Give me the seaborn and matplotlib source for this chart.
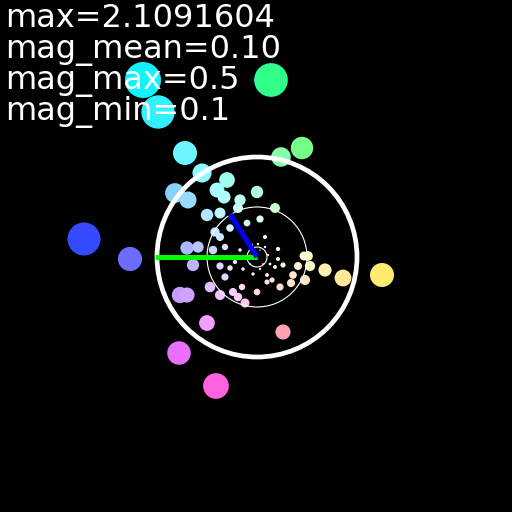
import colorsys
import numpy as np
import pandas as pd
import matplotlib
matplotlib.use("Agg")
import matplotlib.pyplot as plt
from matplotlib.patches import Circle
import seaborn as sns

# vector end points (unit = big ring radius)
vec_x = [-1.14, -0.99, 0.14, 0.45, 0.24, -0.72, -0.55, -0.30, -0.40, -0.33,
         0.00, -0.82, -0.69, -0.50, -0.37, -0.17, -0.19, 0.18, -0.10, 0.03,
         -0.27, -0.42, -0.37, 0.08, -0.70, -0.59, -0.64, -0.44, -0.32, -0.37,
         -0.27, -0.32, -0.47, -0.77, -0.70, -0.37, -0.24, -0.19, -0.15, -0.12,
         0.00, -0.50, 0.26, -0.78, -0.41, 0.47, 0.51, 0.41, 0.53, 0.68,
         0.86, 1.25, 0.36, 0.48, 0.34, 0.23, 0.15, 0.10, -1.73, -1.27,
         -0.17, -0.05, 0.01, 0.08, 0.11, 0.03, -0.07, 0.06, 0.13, 0.03,
         -0.07, -0.22, -0.14, -0.04, 0.10, 0.18, 0.21, 0.26, 0.21]
vec_y = [1.77, 1.45, 1.77, 1.09, 1.00, 1.04, 0.84, 0.77, 0.67, 0.60,
         0.65, 0.64, 0.57, 0.42, 0.44, 0.57, 0.49, 0.49, 0.34, 0.38,
         0.29, 0.25, 0.20, 0.20, 0.09, 0.10, -0.08, 0.07, 0.10, -0.09,
         -0.11, -0.20, -0.30, -0.38, -0.38, -0.38, -0.35, -0.40, -0.30, -0.46,
         -0.35, -0.66, -0.75, -0.96, -1.29, 0.01, 0.01, -0.09, -0.09, -0.13,
         -0.21, -0.18, -0.18, -0.23, -0.26, -0.30, -0.23, -0.25, 0.18, -0.02,
         0.07, 0.12, 0.13, 0.10, 0.02, 0.07, 0.02, -0.07, -0.07, -0.12,
         -0.07, -0.05, -0.12, -0.17, -0.18, -0.10, -0.02, -0.08, 0.08]

# the two arrows and the reference rings
arrow_green = (-1.02, 0.0)
arrow_blue = (-0.27, 0.43)
ring_radii = [1.0, 0.5, 0.1]

labels = ["max=2.1091604", "mag_mean=0.10", "mag_max=0.5", "mag_min=0.1"]

df = pd.DataFrame({"x": vec_x, "y": vec_y})
df["mag"] = np.hypot(df.x, df.y)
df["ang"] = np.degrees(np.arctan2(df.y, df.x))
df["id"] = [str(i) for i in range(len(df))]

colors = []
for a, m in zip(df.ang, df.mag):
    h = ((a + 60) % 360) / 360
    colors.append(colorsys.hsv_to_rgb(h, min(1.0, m / 2.2), 1.0))
palette = dict(zip(df.id, colors))

# dot radius in px grows with the length, then in points^2
rad_px = np.minimum(9.5 * df.mag, 18)
df["area"] = (1.44 * rad_px) ** 2

fig = plt.figure(figsize=(5.12, 5.12), dpi=100, facecolor="black")
ax = fig.add_axes([0, 0, 1, 1])
ax.set_facecolor("black")

sns.scatterplot(data=df, x="x", y="y", hue="id", palette=palette,
                size="area", sizes=(0, df.area.max()),
                size_norm=(0, df.area.max()),
                linewidth=0, legend=False, ax=ax, zorder=2)

ax.add_patch(Circle((0, 0), ring_radii[0], fill=False, ec="white", lw=3.4, zorder=3))
ax.add_patch(Circle((0, 0), ring_radii[1], fill=False, ec="white", lw=0.8, zorder=3))
ax.add_patch(Circle((0, 0), ring_radii[2], fill=False, ec="white", lw=0.8, zorder=3))

ax.plot([0, arrow_green[0]], [0, arrow_green[1]], color="#00ff00", lw=3.6,
        solid_capstyle="butt", zorder=4)
ax.plot([0, arrow_blue[0]], [0, arrow_blue[1]], color="#0000ee", lw=3.8,
        solid_capstyle="butt", zorder=5)

ax.set_xlim(-2.57, 2.55)
ax.set_ylim(-2.55, 2.57)
ax.set_aspect("equal")
ax.axis("off")

base = [27, 58, 89, 120]
for t, b in zip(labels, base):
    fig.text(5 / 512, 1 - b / 512, t, color="white", fontsize=23,
             family="DejaVu Sans", va="baseline", ha="left", zorder=10)

fig.savefig("out.png", dpi=100, facecolor="black")
